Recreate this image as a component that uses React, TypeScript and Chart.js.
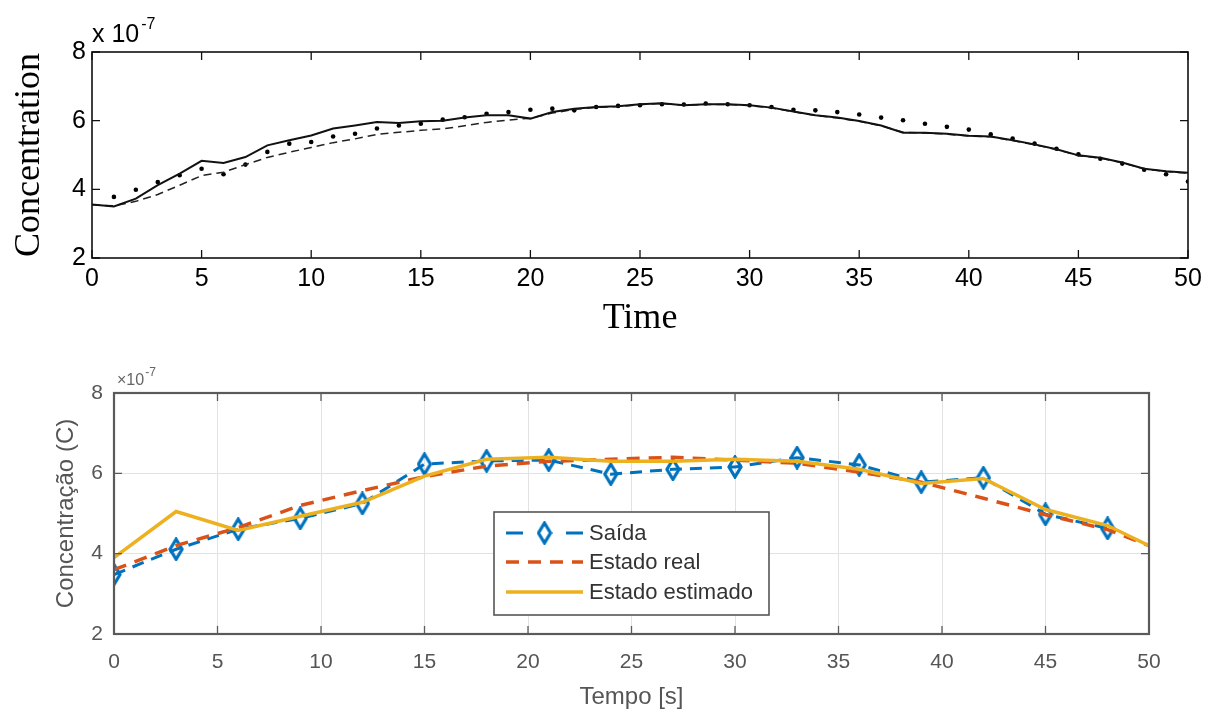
import React, { useEffect, useRef } from "react";
import { Chart, registerables } from "chart.js";

Chart.register(...registerables);

// ---------- Top chart data (values in units of 1e-7) ----------
const topTime = [
  0, 1, 2, 3, 4, 5, 6, 7, 8, 9, 10, 11, 12, 13, 14, 15, 16, 17, 18, 19, 20,
  21, 22, 23, 24, 25, 26, 27, 28, 29, 30, 31, 32, 33, 34, 35, 36, 37, 38, 39,
  40, 41, 42, 43, 44, 45, 46, 47, 48, 49, 50,
];
const topSolid = [
  3.56, 3.5, 3.73, 4.12, 4.46, 4.83, 4.77, 4.94, 5.28, 5.43, 5.57, 5.77, 5.86,
  5.96, 5.93, 5.98, 6.0, 6.09, 6.16, 6.16, 6.06, 6.25, 6.35, 6.4, 6.42, 6.48,
  6.51, 6.45, 6.48, 6.48, 6.45, 6.38, 6.27, 6.16, 6.09, 5.99, 5.86, 5.65, 5.65,
  5.62, 5.56, 5.54, 5.43, 5.31, 5.17, 4.99, 4.92, 4.78, 4.6, 4.53, 4.48,
];
const topDashed = [
  3.55, 3.52, 3.65, 3.85, 4.12, 4.4, 4.5, 4.72, 4.93, 5.08, 5.22, 5.36, 5.47,
  5.6, 5.66, 5.72, 5.76, 5.85, 5.95, 6.02, 6.07, 6.22, 6.33, 6.39, 6.41, 6.47,
  6.5, 6.45, 6.47, 6.47, 6.44, 6.37, 6.26, 6.15, 6.08, 5.98, 5.85, 5.66, 5.64,
  5.61, 5.55, 5.53, 5.42, 5.3, 5.16, 4.98, 4.91, 4.77, 4.6, 4.52, 4.47,
];
const topDotTime = [
  1, 2, 3, 4, 5, 6, 7, 8, 9, 10, 11, 12, 13, 14, 15, 16, 17, 18, 19, 20, 21,
  22, 23, 24, 25, 26, 27, 28, 29, 30, 31, 32, 33, 34, 35, 36, 37, 38, 39, 40,
  41, 42, 43, 44, 45, 46, 47, 48, 49, 50,
];
const topDots = [
  3.78, 3.99, 4.21, 4.41, 4.6, 4.44, 4.72, 5.09, 5.33, 5.38, 5.54, 5.62, 5.77,
  5.86, 5.91, 6.03, 6.1, 6.2, 6.25, 6.32, 6.35, 6.3, 6.4, 6.43, 6.45, 6.48,
  6.47, 6.5, 6.48, 6.45, 6.4, 6.32, 6.3, 6.25, 6.18, 6.09, 6.01, 5.91, 5.82,
  5.74, 5.6, 5.48, 5.33, 5.18, 5.02, 4.89, 4.75, 4.57, 4.44, 4.23,
];

// ---------- Bottom chart data (values in units of 1e-7) ----------
const saidaTime = [0, 3, 6, 9, 12, 15, 18, 21, 24, 27, 30, 33, 36, 39, 42, 45, 48];
const saida = [
  3.48, 4.11, 4.61, 4.88, 5.25, 6.23, 6.31, 6.33, 5.98, 6.1, 6.16, 6.39, 6.21,
  5.78, 5.89, 4.98, 4.63,
];
const estadoTime = [0, 3, 6, 9, 12, 15, 18, 21, 24, 27, 30, 33, 36, 39, 42, 45, 48, 50];
const estadoReal = [
  3.6, 4.2, 4.65, 5.2, 5.57, 5.92, 6.18, 6.3, 6.35, 6.4, 6.33, 6.25, 6.03,
  5.78, 5.38, 4.97, 4.6, 4.2,
];
const estadoEstimado = [
  3.9, 5.05, 4.58, 4.93, 5.28, 5.93, 6.35, 6.4, 6.3, 6.3, 6.35, 6.3, 6.1, 5.75,
  5.87, 5.1, 4.7, 4.2,
];

const xTickValues = [0, 5, 10, 15, 20, 25, 30, 35, 40, 45, 50];
const yTickValues = [2, 4, 6, 8];
const legendLabels = ["Saída", "Estado real", "Estado estimado"];

const SANS = "'Liberation Sans', Arial, Helvetica, sans-serif";
const SERIF = "'Liberation Serif', 'Times New Roman', serif";
const BLUE = "#0072BD";
const ORANGE = "#D95319";
const YELLOW = "#EDB120";

const pts = (xs: number[], ys: number[]) => xs.map((x, i) => ({ x, y: ys[i] }));
const setXTicks = (s: any) => {
  s.ticks = xTickValues.map((v) => ({ value: v }));
};
const setYTicks = (s: any) => {
  s.ticks = yTickValues.map((v) => ({ value: v }));
};

function makeDiamond(): HTMLCanvasElement {
  const c = document.createElement("canvas");
  c.width = 16;
  c.height = 24;
  const g = c.getContext("2d")!;
  g.strokeStyle = BLUE;
  g.lineWidth = 3.2;
  g.beginPath();
  g.moveTo(8, 2);
  g.lineTo(14, 12);
  g.lineTo(8, 22);
  g.lineTo(2, 12);
  g.closePath();
  g.stroke();
  return c;
}

function drawInwardTicks(ctx: any, a: any, scales: any) {
  ctx.beginPath();
  for (const v of xTickValues) {
    const x = scales.x.getPixelForValue(v);
    ctx.moveTo(x, a.bottom);
    ctx.lineTo(x, a.bottom - 8);
    ctx.moveTo(x, a.top);
    ctx.lineTo(x, a.top + 8);
  }
  for (const v of yTickValues) {
    const y = scales.y.getPixelForValue(v);
    ctx.moveTo(a.left, y);
    ctx.lineTo(a.left + 8, y);
    ctx.moveTo(a.right, y);
    ctx.lineTo(a.right - 8, y);
  }
  ctx.stroke();
}

const topFrame = {
  id: "topFrame",
  afterDatasetsDraw(chart: any) {
    const { ctx, chartArea: a, scales } = chart;
    ctx.save();
    ctx.strokeStyle = "#111";
    ctx.lineWidth = 1.6;
    ctx.strokeRect(a.left, a.top, a.right - a.left, a.bottom - a.top);
    ctx.lineWidth = 1.3;
    drawInwardTicks(ctx, a, scales);
    ctx.fillStyle = "#000";
    ctx.textBaseline = "alphabetic";
    ctx.textAlign = "left";
    ctx.font = `25px ${SANS}`;
    ctx.fillText("x 10", a.left, a.top - 10);
    const w = ctx.measureText("x 10").width;
    ctx.font = `16px ${SANS}`;
    ctx.fillText("-7", a.left + w + 2, a.top - 23);
    ctx.restore();
  },
};

function makeBottomFrame(diamond: HTMLCanvasElement) {
  return {
    id: "bottomFrame",
    afterDatasetsDraw(chart: any) {
      const { ctx, chartArea: a, scales } = chart;
      ctx.save();
      ctx.strokeStyle = "#5a5a5a";
      ctx.lineWidth = 1.3;
      drawInwardTicks(ctx, a, scales);
      ctx.lineWidth = 2.2;
      ctx.strokeRect(a.left, a.top, a.right - a.left, a.bottom - a.top);

      // exponent label
      ctx.fillStyle = "#666";
      ctx.textBaseline = "alphabetic";
      ctx.textAlign = "left";
      ctx.font = `16px ${SANS}`;
      ctx.fillText("×10", a.left + 3, a.top - 8);
      const w = ctx.measureText("×10").width;
      ctx.font = `12px ${SANS}`;
      ctx.fillText("-7", a.left + 3 + w + 1, a.top - 17);

      // legend
      const lx = 494;
      const ly = a.top + 119;
      const lw = 275;
      const lh = 103;
      ctx.fillStyle = "#fff";
      ctx.fillRect(lx, ly, lw, lh);
      ctx.strokeStyle = "#555";
      ctx.lineWidth = 1.6;
      ctx.strokeRect(lx, ly, lw, lh);
      const rows = [ly + 21, ly + 50, ly + 80];
      const s0 = lx + 12;
      const s1 = lx + 89;
      ctx.strokeStyle = BLUE;
      ctx.lineWidth = 3;
      ctx.beginPath();
      ctx.moveTo(s0, rows[0]);
      ctx.lineTo(s0 + 17, rows[0]);
      ctx.moveTo(s1 - 17, rows[0]);
      ctx.lineTo(s1, rows[0]);
      ctx.stroke();
      ctx.drawImage(
        diamond,
        (s0 + s1) / 2 - diamond.width / 2,
        rows[0] - diamond.height / 2
      );
      ctx.strokeStyle = ORANGE;
      ctx.lineWidth = 3.5;
      ctx.setLineDash([13, 9]);
      ctx.beginPath();
      ctx.moveTo(s0, rows[1]);
      ctx.lineTo(s1, rows[1]);
      ctx.stroke();
      ctx.setLineDash([]);
      ctx.strokeStyle = YELLOW;
      ctx.lineWidth = 3.5;
      ctx.beginPath();
      ctx.moveTo(s0, rows[2]);
      ctx.lineTo(s1, rows[2]);
      ctx.stroke();
      ctx.fillStyle = "#333";
      ctx.font = `22px ${SANS}`;
      ctx.textBaseline = "middle";
      legendLabels.forEach((t, i) => ctx.fillText(t, s1 + 6, rows[i] + 1));
      ctx.restore();
    },
  };
}

export default function App() {
  const topRef = useRef<HTMLCanvasElement>(null);
  const botRef = useRef<HTMLCanvasElement>(null);

  useEffect(() => {
    const diamond = makeDiamond();
    const top = new Chart(topRef.current!, {
      type: "line",
      data: {
        datasets: [
          {
            label: "Solid",
            data: pts(topTime, topSolid),
            borderColor: "#111",
            borderWidth: 2,
            pointRadius: 0,
            tension: 0,
          },
          {
            label: "Dashed",
            data: pts(topTime, topDashed),
            borderColor: "#222",
            borderWidth: 1.5,
            borderDash: [8, 5],
            pointRadius: 0,
            tension: 0,
          },
          {
            label: "Dots",
            data: pts(topDotTime, topDots),
            showLine: false,
            pointRadius: 2.3,
            pointBackgroundColor: "#000",
            pointBorderWidth: 0,
          },
        ],
      },
      options: {
        responsive: false,
        animation: false,
        devicePixelRatio: 1,
        layout: { padding: { top: 52, right: 28, left: 0, bottom: 0 } },
        plugins: { legend: { display: false }, tooltip: { enabled: false } },
        scales: {
          x: {
            type: "linear",
            min: 0,
            max: 50,
            afterBuildTicks: setXTicks,
            afterFit: (s: any) => {
              s.height = 92;
            },
            grid: { display: false, drawTicks: false },
            border: { display: false },
            ticks: {
              padding: 6,
              autoSkip: false,
              maxRotation: 0,
              color: "#000",
              font: { family: SANS, size: 25 },
            },
            title: {
              display: true,
              text: "Time",
              color: "#000",
              font: { family: SERIF, size: 36 },
              padding: { top: 0, bottom: 10 },
            },
          },
          y: {
            type: "linear",
            min: 2,
            max: 8,
            afterBuildTicks: setYTicks,
            afterFit: (s: any) => {
              s.width = 92;
            },
            grid: { display: false, drawTicks: false },
            border: { display: false },
            ticks: {
              padding: 6,
              color: "#000",
              font: { family: SANS, size: 25 },
            },
            title: {
              display: true,
              text: "Concentration",
              color: "#000",
              font: { family: SERIF, size: 36 },
              padding: { top: 8, bottom: 0 },
            },
          },
        },
      },
      plugins: [topFrame],
    } as any);

    const bottom = new Chart(botRef.current!, {
      type: "line",
      data: {
        datasets: [
          {
            label: legendLabels[2],
            data: pts(estadoTime, estadoEstimado),
            borderColor: YELLOW,
            borderWidth: 3.5,
            pointRadius: 0,
            tension: 0,
            order: 0,
          },
          {
            label: legendLabels[1],
            data: pts(estadoTime, estadoReal),
            borderColor: ORANGE,
            borderWidth: 3.5,
            borderDash: [13, 9],
            pointRadius: 0,
            tension: 0,
            order: 1,
          },
          {
            label: legendLabels[0],
            data: pts(saidaTime, saida),
            borderColor: BLUE,
            borderWidth: 3,
            borderDash: [12, 8],
            pointStyle: diamond,
            pointRadius: 8,
            tension: 0,
            order: 2,
          },
        ],
      },
      options: {
        responsive: false,
        animation: false,
        devicePixelRatio: 1,
        layout: { padding: { top: 43, right: 67, left: 0, bottom: 0 } },
        plugins: { legend: { display: false }, tooltip: { enabled: false } },
        scales: {
          x: {
            type: "linear",
            min: 0,
            max: 50,
            afterBuildTicks: setXTicks,
            afterFit: (s: any) => {
              s.height = 86;
            },
            grid: { color: "#e2e2e2", lineWidth: 1, drawTicks: false },
            border: { display: false },
            ticks: {
              padding: 16,
              autoSkip: false,
              maxRotation: 0,
              color: "#555",
              font: { family: SANS, size: 21 },
            },
            title: {
              display: true,
              text: "Tempo [s]",
              color: "#555",
              font: { family: SANS, size: 24 },
              padding: { top: 0, bottom: 8 },
            },
          },
          y: {
            type: "linear",
            min: 2,
            max: 8,
            afterBuildTicks: setYTicks,
            afterFit: (s: any) => {
              s.width = 114;
            },
            grid: { color: "#e2e2e2", lineWidth: 1, drawTicks: false },
            border: { display: false },
            ticks: {
              padding: 11,
              color: "#555",
              font: { family: SANS, size: 21 },
            },
            title: {
              display: true,
              text: "Concentração (C)",
              color: "#555",
              font: { family: SANS, size: 24 },
              padding: { top: 52, bottom: 0 },
            },
          },
        },
      },
      plugins: [makeBottomFrame(diamond)],
    } as any);

    return () => {
      top.destroy();
      bottom.destroy();
    };
  }, []);

  return (
    <div
      style={{
        position: "absolute",
        left: 0,
        top: 0,
        width: 1216,
        height: 720,
        background: "#fff",
        overflow: "hidden",
      }}
    >
      <canvas
        ref={topRef}
        width={1216}
        height={350}
        style={{ position: "absolute", left: 0, top: 0 }}
      />
      <canvas
        ref={botRef}
        width={1216}
        height={370}
        style={{ position: "absolute", left: 0, top: 350 }}
      />
    </div>
  );
}
